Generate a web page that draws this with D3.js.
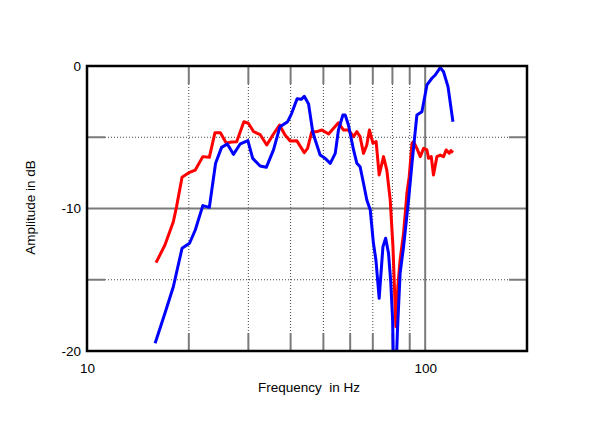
<!DOCTYPE html>
<html>
<head>
<meta charset="utf-8">
<script src="https://cdn.jsdelivr.net/npm/d3@7"></script>
<style>
  html, body { margin: 0; padding: 0; background: #fff; }
  svg { display: block; }
  text { font-family: "Liberation Sans", Arial, Helvetica, sans-serif; fill: #000; }
</style>
</head>
<body>
<svg id="chart" width="600" height="426"></svg>
<script>
// ---- data ----
const redFreq = [16.0, 17.0, 18.0, 18.4, 19.1, 20.1, 20.9, 22.0, 23.0, 23.9, 24.8, 25.8, 26.8, 27.7, 29.1, 30.0, 31.1, 32.5, 34.0, 35.6, 37.1, 38.5, 39.9, 41.7, 43.9, 44.9, 46.2, 47.8, 49.5, 51.8, 53.6, 55.4, 57.3, 59.3, 61.4, 62.8, 64.2, 65.7, 67.2, 68.4, 70.1, 71.6, 73.1, 75.3, 77.0, 78.8, 80.3, 81.9, 83.0, 84.3, 86.3, 88.3, 89.7, 91.4, 92.4, 94.5, 96.7, 98.9, 101.2, 102.3, 104.2, 105.8, 108.3, 110.8, 113.3, 115.4, 117.8, 119.1, 120.8];
const redDb   = [-13.8, -12.56, -10.93, -9.87, -7.81, -7.46, -7.30, -6.36, -6.41, -4.68, -4.68, -5.40, -5.33, -5.31, -3.91, -4.02, -4.61, -4.81, -5.54, -4.77, -4.14, -4.84, -5.26, -5.24, -6.08, -5.78, -4.61, -4.61, -4.49, -4.77, -4.37, -3.98, -4.49, -4.49, -4.96, -4.61, -4.96, -6.13, -5.54, -4.49, -5.42, -5.31, -7.65, -6.36, -7.30, -9.40, -12.68, -18.29, -15.49, -13.61, -11.74, -8.93, -7.77, -5.42, -5.31, -5.78, -6.36, -5.78, -5.89, -6.48, -6.36, -7.65, -6.36, -6.25, -6.36, -5.89, -6.13, -5.94, -6.08];

const blueFreq = [15.9, 17.0, 18.0, 19.1, 20.1, 20.9, 22.0, 23.0, 24.0, 25.0, 26.0, 27.1, 28.4, 29.9, 30.9, 32.5, 33.9, 35.6, 37.2, 39.2, 40.3, 41.8, 43.0, 43.9, 45.2, 46.5, 47.3, 48.9, 50.6, 52.4, 54.2, 55.4, 57.1, 58.0, 59.3, 61.4, 62.8, 64.2, 65.7, 67.2, 68.8, 70.3, 71.5, 73.1, 75.0, 76.4, 77.9, 79.1, 80.1, 80.6, 82.1, 82.8, 84.3, 86.3, 89.3, 91.4, 94.5, 97.8, 101.2, 104.7, 107.1, 110.8, 113.3, 116.8, 120.8];
const blueDb   = [-19.46, -17.35, -15.49, -12.79, -12.44, -11.51, -9.80, -9.92, -6.83, -5.71, -5.47, -6.20, -5.46, -5.23, -6.48, -7.02, -7.11, -5.89, -4.26, -3.91, -3.32, -2.30, -2.34, -2.13, -2.67, -4.61, -5.19, -6.25, -6.48, -6.83, -6.13, -4.49, -3.44, -3.44, -4.14, -5.89, -6.83, -7.07, -8.23, -9.40, -10.11, -12.44, -13.61, -16.30, -12.68, -12.09, -13.14, -15.16, -17.8, -21.0, -21.0, -18.53, -14.55, -12.68, -9.40, -6.83, -3.44, -3.21, -1.33, -0.86, -0.63, -0.11, -0.40, -1.45, -3.91];

const xTickValues = [10, 100];
const xTickLabels = ["10", "100"];
const xGridDotted = [20, 30, 40, 50, 60, 70, 80, 90];
const xGridSolid  = [100];
const yTickValues = [0, -10, -20];
const yTickLabels = ["0", "-10", "-20"];
const yGridDotted = [-5, -15];
const yGridSolid  = [-10];
const xTitle = "Frequency  in Hz";
const yTitle = "Amplitude in dB";

// ---- layout ----
const L = 87, R = 527, T = 66, B = 351;
const svg = d3.select("#chart");

const x = d3.scaleLog().domain([10, 200]).range([L, R]);
const y = d3.scaleLinear().domain([-20, 0]).range([B, T]);

const tickLen = 18;
const gridCol = "#7a7a7a";
const dotCol = "#444";

const g = svg.append("g");

// dotted vertical grid with solid tick segments at both ends
xGridDotted.forEach(f => {
  const xx = x(f);
  g.append("line").attr("x1", xx).attr("x2", xx).attr("y1", T + tickLen).attr("y2", B - tickLen)
    .attr("stroke", dotCol).attr("stroke-width", 1).attr("stroke-dasharray", "1,2");
  g.append("line").attr("x1", xx).attr("x2", xx).attr("y1", T).attr("y2", T + tickLen)
    .attr("stroke", gridCol).attr("stroke-width", 2);
  g.append("line").attr("x1", xx).attr("x2", xx).attr("y1", B - tickLen).attr("y2", B)
    .attr("stroke", gridCol).attr("stroke-width", 2);
});
xGridSolid.forEach(f => {
  g.append("line").attr("x1", x(f)).attr("x2", x(f)).attr("y1", T).attr("y2", B)
    .attr("stroke", gridCol).attr("stroke-width", 2);
});
// horizontal grid
yGridDotted.forEach(v => {
  const yy = y(v);
  g.append("line").attr("x1", L + tickLen).attr("x2", R - tickLen).attr("y1", yy).attr("y2", yy)
    .attr("stroke", dotCol).attr("stroke-width", 1).attr("stroke-dasharray", "1,2");
  g.append("line").attr("x1", L).attr("x2", L + tickLen).attr("y1", yy).attr("y2", yy)
    .attr("stroke", gridCol).attr("stroke-width", 2);
  g.append("line").attr("x1", R - tickLen).attr("x2", R).attr("y1", yy).attr("y2", yy)
    .attr("stroke", gridCol).attr("stroke-width", 2);
});
yGridSolid.forEach(v => {
  g.append("line").attr("x1", L).attr("x2", R).attr("y1", y(v)).attr("y2", y(v))
    .attr("stroke", gridCol).attr("stroke-width", 2);
});

// clip
svg.append("defs").append("clipPath").attr("id", "plotclip")
  .append("rect").attr("x", L).attr("y", T - 2).attr("width", R - L).attr("height", B - T + 2);

const line = d3.line().x(d => x(d[0])).y(d => y(d[1]));
const redData = redFreq.map((f, i) => [f, redDb[i]]);
const blueData = blueFreq.map((f, i) => [f, blueDb[i]]);

const curves = svg.append("g").attr("clip-path", "url(#plotclip)");
curves.append("path").datum(redData).attr("d", line)
  .attr("fill", "none").attr("stroke", "#ff0000").attr("stroke-width", 3).attr("stroke-linejoin", "round");
curves.append("path").datum(blueData).attr("d", line)
  .attr("fill", "none").attr("stroke", "#0000ff").attr("stroke-width", 3).attr("stroke-linejoin", "round");

// frame
svg.append("rect").attr("x", L).attr("y", T).attr("width", R - L).attr("height", B - T)
  .attr("fill", "none").attr("stroke", "#000").attr("stroke-width", 2.5);

// axes labels via d3 axes (no tick lines)
const xAxis = d3.axisBottom(x).tickValues(xTickValues).tickFormat((d, i) => xTickLabels[i]).tickSize(0).tickPadding(12);
const yAxis = d3.axisLeft(y).tickValues(yTickValues).tickFormat((d, i) => yTickLabels[i]).tickSize(0).tickPadding(6);
const gx = svg.append("g").attr("transform", `translate(0,${B})`).call(xAxis);
const gy = svg.append("g").attr("transform", `translate(${L},0)`).call(yAxis);
[gx, gy].forEach(a => {
  a.select(".domain").remove();
  a.selectAll("text").attr("font-size", 13.5).attr("font-family", "Liberation Sans, Arial, sans-serif").attr("fill", "#000");
});

// titles
svg.append("text").attr("x", 309).attr("y", 392).attr("text-anchor", "middle")
  .attr("font-size", 13.5).style("white-space", "pre").text(xTitle);
svg.append("text").attr("transform", `translate(35,${(T + B) / 2 - 1}) rotate(-90)`).attr("text-anchor", "middle")
  .attr("font-size", 13.5).text(yTitle);
</script>
</body>
</html>
